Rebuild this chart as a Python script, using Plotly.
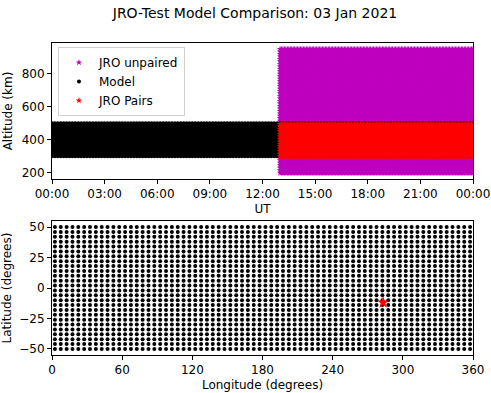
import numpy as np
import pandas as pd
import plotly.graph_objects as go

# ---------------- data ----------------
title_text = "JRO-Test Model Comparison: 03 Jan 2021"
day_start = pd.Timestamp("2021-01-03 00:00")
day_end = pd.Timestamp("2021-01-04 00:00")

# Model sampling grid (time in hours UT, altitude in km)
model_hours = np.arange(0.0, 24.0 + 1e-9, 1.0 / 6.0)
model_alts = np.arange(300.0, 500.0 + 1e-9, 10.0)

# JRO observations (unpaired) grid
jro_hours = np.arange(13.0, 24.0 + 1e-9, 1.0 / 12.0)
jro_alts = np.arange(200.0, 950.0 + 1e-9, 15.0)

# JRO pairs (observations matched with model)
pair_alts = np.arange(300.0, 500.0 + 1e-9, 15.0)

# Model lat/lon grid and JRO site location
model_lons = np.arange(2.5, 360.0, 5.0)
model_lats = np.arange(-50.0, 50.0 + 1e-9, 4.0)
jro_lon = [283.13]
jro_lat = [-11.95]

alt_ticks = [200, 400, 600, 800]
lon_ticks = [0, 60, 120, 180, 240, 300, 360]
lat_ticks = [-50, -25, 0, 25, 50]


def grid(hours, alts):
    h, a = np.meshgrid(hours, alts)
    t = day_start + pd.to_timedelta(h.ravel(), unit="h")
    return t, a.ravel()


t_un, a_un = grid(jro_hours, jro_alts)
t_mod, a_mod = grid(model_hours, model_alts)
t_pr, a_pr = grid(jro_hours, pair_alts)
lo, la = np.meshgrid(model_lons, model_lats)

FONT = "DejaVu Sans"
W, H = 491, 393
L, T = 52, 43
R = W - 473
B = H - 355
PH = H - T - B
PW = W - L - R

fig = go.Figure()
fig.add_trace(go.Scatter(x=t_un, y=a_un, mode="markers", name="JRO unpaired",
                         marker=dict(symbol="star", size=5, color="#bf00bf", line=dict(width=0)),
                         xaxis="x", yaxis="y"))
fig.add_trace(go.Scatter(x=t_mod, y=a_mod, mode="markers", name="Model",
                         marker=dict(symbol="circle", size=4, color="black", line=dict(width=0)),
                         xaxis="x", yaxis="y"))
fig.add_trace(go.Scatter(x=t_pr, y=a_pr, mode="markers", name="JRO Pairs",
                         marker=dict(symbol="star", size=5, color="red", line=dict(width=0)),
                         xaxis="x", yaxis="y"))
fig.add_trace(go.Scatter(x=lo.ravel(), y=la.ravel(), mode="markers", showlegend=False,
                         marker=dict(symbol="circle", size=4, color="black", line=dict(width=0)),
                         xaxis="x2", yaxis="y2"))
fig.add_trace(go.Scatter(x=jro_lon, y=jro_lat, mode="markers", showlegend=False,
                         marker=dict(symbol="star", size=9, color="red", line=dict(width=0)),
                         xaxis="x2", yaxis="y2"))

axis_common = dict(showgrid=False, zeroline=False, showline=True, linecolor="black",
                   linewidth=1, mirror=True, ticks="outside", ticklen=4, tickcolor="black",
                   automargin=False,
                   tickfont=dict(family=FONT, size=12, color="black"))

fig.update_layout(
    width=W, height=H,
    margin=dict(l=L, r=R, t=T, b=B, autoexpand=False),
    paper_bgcolor="white", plot_bgcolor="white",
    font=dict(family=FONT, size=12, color="black"),
    title=dict(text=title_text, x=255 / W, xanchor="center",
               y=1 - 13 / H, yanchor="middle",
               font=dict(family=FONT, size=14, color="black")),
    xaxis=dict(domain=[0, 1], anchor="y", type="date",
               range=[day_start, day_end], tickformat="%H:%M", dtick=3 * 3600 * 1000,
               tick0=day_start,
               title=dict(text="UT", font=dict(family=FONT, size=12), standoff=4),
               **axis_common),
    yaxis=dict(domain=[1 - (179 - 43) / PH, 1], anchor="x", range=[162.5, 987.5],
               tickvals=alt_ticks,
               title=dict(text="Altitude (km)", font=dict(family=FONT, size=12), standoff=6),
               **axis_common),
    xaxis2=dict(domain=[0, 1], anchor="y2", range=[0, 360],
                tickvals=lon_ticks,
                title=dict(text="Longitude (degrees)", font=dict(family=FONT, size=12), standoff=4),
                **axis_common),
    yaxis2=dict(domain=[0, (355 - 221) / PH], anchor="x2", range=[-55, 55],
                tickvals=lat_ticks, tickformat="d",
                title=dict(text="Latitude (degrees)", font=dict(family=FONT, size=12), standoff=6),
                **axis_common),
    legend=dict(x=(58 - 52) / PW, y=1 - (47 - 43) / PH, xanchor="left", yanchor="top",
                bgcolor="rgba(255,255,255,0.85)", bordercolor="#d0d0d0", borderwidth=1,
                font=dict(family=FONT, size=12), itemsizing="trace",
                tracegroupgap=0),
)

fig.write_html("out.html", config={"displayModeBar": False},
               post_script="document.body.style.margin='0';")
